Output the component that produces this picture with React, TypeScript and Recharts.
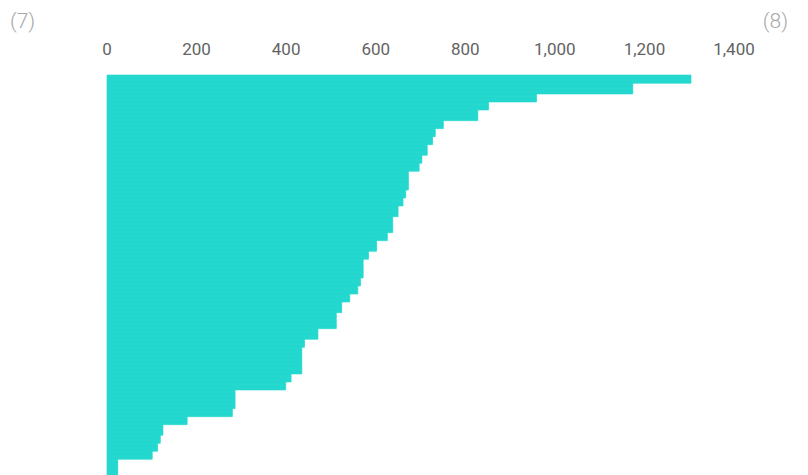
import { Bar, BarChart, XAxis, YAxis } from "recharts"

// Sorted values, top to bottom. Runs of equal values make the visible steps.
const barValues = [
  1304, 1304, 1304,
  1174, 1174, 1174, 1174,
  959, 959, 959,
  852, 852, 852,
  828, 828, 828, 828,
  751, 751, 751,
  733, 733, 733,
  727, 727, 727,
  715, 715, 715, 715,
  703, 703, 703,
  697, 697, 697,
  673, 673, 673, 673, 673, 673, 673,
  667, 667, 667,
  661, 661, 661,
  650, 650, 650, 650,
  638, 638, 638, 638, 638, 638,
  626, 626, 626,
  602, 602, 602, 602,
  584, 584, 584,
  572, 572, 572, 572, 572, 572, 572,
  566, 566, 566,
  560, 560, 560,
  542, 542, 542,
  524, 524, 524, 524,
  512, 512, 512, 512, 512, 512,
  471, 471, 471, 471,
  441, 441, 441,
  435, 435, 435, 435, 435, 435, 435, 435, 435, 435,
  411, 411, 411,
  399, 399, 399,
  286, 286, 286, 286, 286, 286, 286,
  280, 280, 280,
  179, 179, 179,
  125, 125, 125, 125,
  119, 119, 119,
  113, 113, 113,
  101, 101, 101,
  24, 24, 24, 24, 24, 24,
]

const xTicks = [0, 200, 400, 600, 800, 1000, 1200, 1400]
const cornerLabels = ["(7)", "(8)"]

const data = barValues.map((value, i) => ({ row: i + 1, value }))

export default function App() {
  return (
    <div style={{ position: "absolute", top: 0, left: 0, width: 808, height: 475 }}>
      <BarChart
        width={808}
        height={475}
        data={data}
        layout="vertical"
        barCategoryGap={0}
        margin={{ top: 45, right: 74, bottom: 0, left: 107 }}
      >
        <XAxis
          type="number"
          orientation="top"
          domain={[0, 1400]}
          ticks={xTicks}
          height={30}
          axisLine={false}
          tickLine={false}
          tickSize={0}
          tickMargin={20}
          interval={0}
          tick={{ fontSize: 17, fill: "#636363", fontFamily: "Roboto" }}
          tickFormatter={(v: number) => v.toLocaleString("en-US")}
        />
        <YAxis type="category" dataKey="row" hide />
        {/* thin same-colour stroke hides the anti-aliasing seams between rows */}
        <Bar
          dataKey="value"
          fill="#24d8cf"
          stroke="#24d8cf"
          strokeWidth={0.6}
          isAnimationActive={false}
        />
      </BarChart>
      <svg
        width={808}
        height={475}
        style={{ position: "absolute", top: 0, left: 0, pointerEvents: "none" }}
      >
        <text x={10} y={28} fontSize={21} fontWeight={300} fill="#a8a8a8" fontFamily="Roboto">
          {cornerLabels[0]}
        </text>
        <text x={788} y={28} fontSize={21} fontWeight={300} fill="#a8a8a8" fontFamily="Roboto" textAnchor="end">
          {cornerLabels[1]}
        </text>
      </svg>
    </div>
  )
}
